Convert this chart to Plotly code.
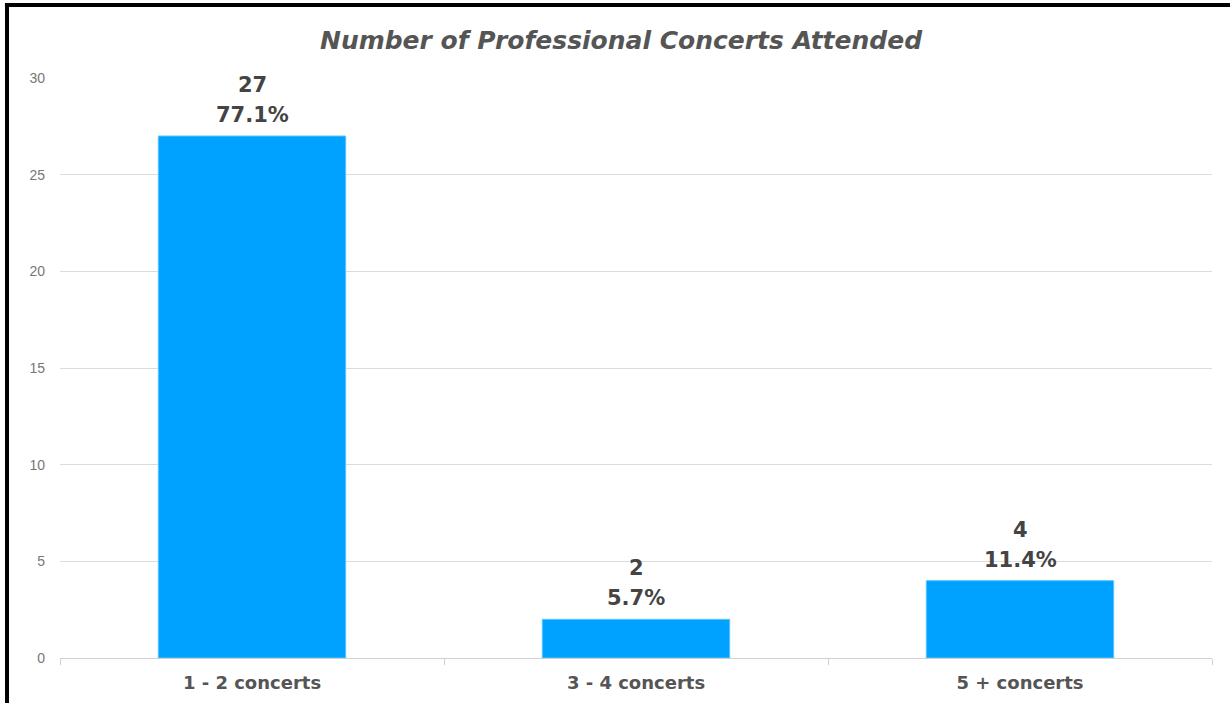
import plotly.graph_objects as go

categories = ["1 - 2 concerts", "3 - 4 concerts", "5 + concerts"]
counts = [27, 2, 4]
percents = ["77.1%", "5.7%", "11.4%"]
y_ticks = [0, 5, 10, 15, 20, 25, 30]
title_text = "Number of Professional Concerts Attended"

FONT = "Liberation Sans, Arial, sans-serif"
WIDE = "DejaVu Sans, Liberation Sans, sans-serif"
BAR_COLOR = "#00a2ff"

fig = go.Figure()
fig.add_trace(go.Bar(
    x=categories, y=counts,
    marker=dict(color=BAR_COLOR, line=dict(color="#5cc4ff", width=1)),
    width=0.488,
    hoverinfo="skip",
))

for c, v, p in zip(categories, counts, percents):
    fig.add_annotation(
        x=c, y=v, xref="x", yref="y",
        text=f"<b>{p}</b>",
        showarrow=False, yanchor="bottom", yshift=7,
        font=dict(family=WIDE, size=21, color="#444444"),
    )
    fig.add_annotation(
        x=c, y=v, xref="x", yref="y",
        text=f"<b>{v}</b>",
        showarrow=False, yanchor="bottom", yshift=37,
        font=dict(family=WIDE, size=21, color="#444444"),
    )

# black frame edges (left and top) as in the reference screenshot
fig.add_shape(type="line", xref="paper", yref="paper",
              x0=-0.046, x1=-0.046, y0=-0.2, y1=1.1276,
              line=dict(color="black", width=4))
fig.add_shape(type="line", xref="paper", yref="paper",
              x0=-0.0478, x1=1.1, y0=1.1259, y1=1.1259,
              line=dict(color="black", width=4))

fig.update_layout(
    width=1230, height=703,
    margin=dict(l=60, r=18, t=78, b=45),
    paper_bgcolor="white", plot_bgcolor="white",
    showlegend=False,
    title=dict(text=f"<b><i>{title_text}</i></b>", x=621 / 1230, xref="container",
               y=1 - 40 / 703, yref="container", xanchor="center", yanchor="middle",
               font=dict(family=WIDE, size=25, color="#555555")),
    xaxis=dict(
        showgrid=False, showline=True, linecolor="#d0d0d0", linewidth=1,
        ticks="outside", tickson="boundaries", ticklen=6, tickcolor="#d0d0d0",
        tickfont=dict(family=WIDE, size=18, color="#555555"),
        tickprefix="<b>", ticksuffix="</b>", ticklabelstandoff=8,
        automargin=False, fixedrange=True,
    ),
    yaxis=dict(
        range=[0, 30], tickvals=y_ticks, showgrid=True, gridcolor="#dcdcdc",
        gridwidth=1, zeroline=False, showline=False,
        ticks="", ticklabelstandoff=14,
        tickfont=dict(family=FONT, size=14, color="#777777"),
        automargin=False, fixedrange=True,
    ),
)

fig.write_html("out.html")
